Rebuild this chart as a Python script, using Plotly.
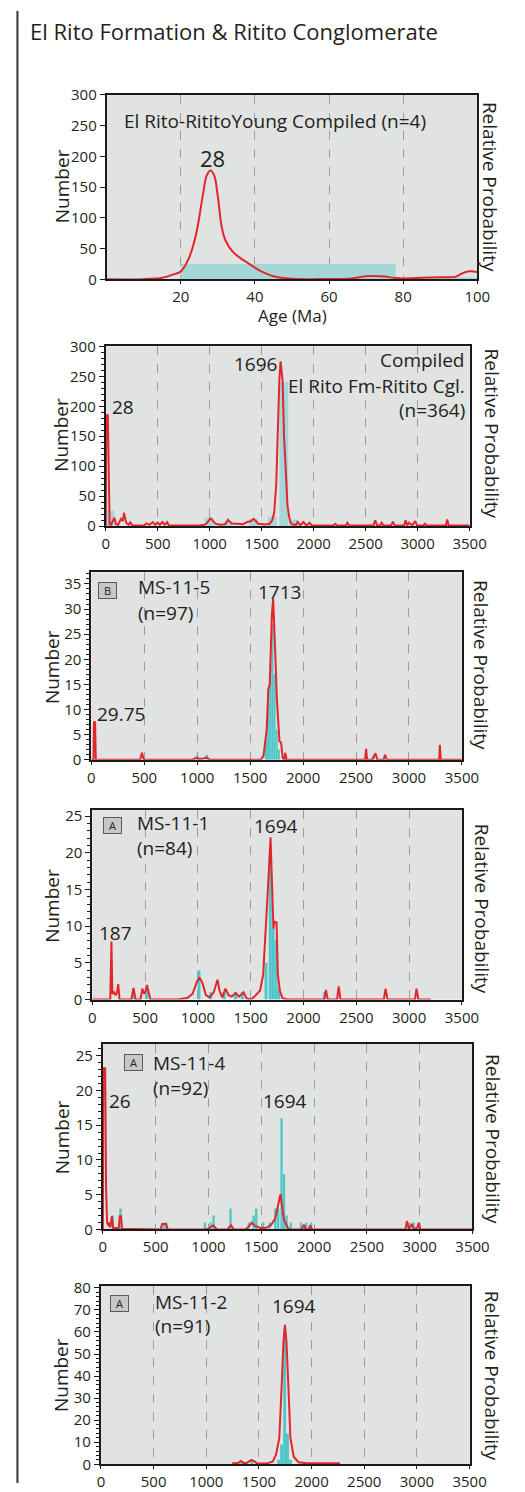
import plotly.graph_objects as go

# ---- data (ages in Ma, counts / scaled probability) ----

# panel 1: young grains 0-100 Ma
p1_bin_lo = [20, 79]
p1_bin_hi = [78, 100]
p1_count = [25, 3]
p1_age = [0, 10, 15, 18, 20, 22, 24, 26, 27, 28, 29, 30, 31, 32, 34, 36, 38, 40, 42, 45,
          50, 60, 66, 70, 72, 75, 78, 80, 85, 90, 94, 96, 98, 100]
p1_prob = [0, 0.3, 2.7, 8, 13, 32, 70, 139, 169, 177, 169, 134, 86, 64, 45, 35, 27, 19, 12, 5,
           1, 0.5, 1.5, 5, 5.5, 4.5, 2, 1.5, 2.5, 3.5, 4, 10, 13, 12]

# panel 2: compiled El Rito Fm - Ritito Cgl
p2_bin_mid = [40, 992, 1178, 1420, 1602, 1713, 1806]
p2_count = [26, 14, 8, 12, 16, 240, 11]
p2_age = [0, 5, 20, 30, 37, 50, 83, 98, 120, 145, 165, 175, 197, 220, 237, 252, 370, 391,
          420, 453, 475, 499, 520, 545, 568, 591, 606, 900, 950, 976, 1007, 1030, 1053, 1100,
          1150, 1176, 1210, 1268, 1320, 1361, 1395, 1422, 1450, 1468, 1530, 1576, 1600, 1620,
          1640, 1655, 1670, 1682, 1692, 1701, 1715, 1732, 1748, 1763, 1778, 1794, 1830, 1847,
          1870, 1900, 1930, 1961, 1980, 2190, 2207, 2225, 2310, 2324, 2340, 2575, 2592, 2610,
          2640, 2654, 2670, 2745, 2762, 2780, 2870, 2885, 2900, 2916, 2950, 2977, 2995, 3055,
          3070, 3085, 3272, 3285, 3298, 3500]
p2_prob = [1, 185, 185, 20, 3, 2, 14, 3, 2, 12, 8, 22, 5, 2, 7, 1, 1, 4.4,
           2, 6.6, 2, 5.5, 2, 6.6, 2, 6.6, 1, 1, 2, 5.5, 12.7, 9, 4, 2,
           3, 10.5, 4, 3.8, 3, 6.6, 8, 12, 6, 3.8, 2.5, 3.8, 9, 22,
           70, 160, 245, 275, 262, 242, 150, 77, 35, 16, 6, 2.8, 2, 7,
           1, 6.6, 1, 5.5, 1, 1, 3.8, 1, 1, 5.5, 1, 1, 9.4, 1,
           1, 5.5, 1, 1, 7, 1, 1, 9.4, 1, 5.5, 1, 8.3, 1, 1,
           3.8, 1, 1, 11, 1, 1]

# panel 3: MS-11-5
p3_bin_mid = [1000, 1088, 1650, 1670, 1690, 1710, 1730, 1750, 1770, 2666]
p3_count = [1, 1, 4, 14, 19, 27, 17, 6, 2, 0.8]
p3_age = [0, 20, 25, 35, 42, 460, 478, 495, 950, 990, 1020, 1050, 1088, 1120, 1600, 1626,
          1656, 1671, 1685, 1692, 1705, 1717, 1728, 1741, 1752, 1762, 1777, 1792, 1807, 1822,
          1830, 1845, 2585, 2595, 2605, 2650, 2670, 2684, 2700, 2760, 2774, 2790, 3285, 3292,
          3300, 3500]
p3_prob = [0, 0, 7.5, 7.5, 0, 0, 1.4, 0, 0, 0.4, 0.2, 0.2, 0.5, 0, 0, 0.8,
           6, 14, 15, 20, 29, 32, 27, 19, 12, 9, 3.7, 3.4, 0.4, 0,
           1.4, 0, 0, 2.2, 0, 0, 0.8, 1.3, 0, 0, 1, 0, 0, 3,
           0, 0]

# panel 4: MS-11-1
p4_bin_mid = [390, 517, 1010, 1120, 1250, 1357, 1420, 1645, 1685, 1712, 1740, 1765, 2200]
p4_count = [1.3, 1.3, 4, 1, 1, 1, 1, 5, 19.8, 9.8, 8.1, 1.5, 1]
p4_age = [0, 170, 181, 190, 205, 220, 235, 245, 258, 370, 390, 410, 455, 474, 490, 502,
          517, 532, 550, 800, 900, 950, 990, 1015, 1045, 1075, 1110, 1150, 1175, 1185, 1205,
          1230, 1261, 1290, 1320, 1357, 1390, 1432, 1460, 1500, 1528, 1588, 1618, 1649, 1670,
          1688, 1703, 1715, 1725, 1733, 1745, 1757, 1776, 1800, 1850, 2195, 2212, 2230, 2318,
          2333, 2350, 2760, 2777, 2795, 3055, 3070, 3088, 3206]
p4_prob = [0, 0, 7.9, 0.8, 1, 0.6, 1, 2.1, 0, 0, 1.6, 0, 0, 1.5, 0.8, 1,
           2.0, 1, 0, 0, 0.2, 0.8, 2.4, 3.0, 2.2, 0.6, 0.3, 1, 2.3, 2.7, 1.2,
           0.3, 1.5, 0.6, 0.4, 0.9, 0.4, 1.0, 0.2, 0, 0.3, 1.2, 3.4, 10.6, 17,
           22.1, 15, 9.7, 10.6, 10.6, 10.5, 3.4, 1.2, 0.2, 0, 0, 1.3, 0, 0,
           1.8, 0, 0, 1.5, 0, 0, 1.5, 0, 0]

# panel 5: MS-11-4
p5_bin_mid = [94, 167, 575, 600, 966, 1018, 1048, 1209, 1382, 1427, 1452, 1518, 1579, 1633,
              1660, 1692, 1715, 1740, 1779, 1876, 1927, 1973, 2897, 2942, 2997]
p5_count = [2, 3, 1, 1, 1, 1, 2, 3, 1, 2, 3, 1, 1, 3,
            3, 16, 8, 2, 1, 1, 1, 1, 1, 1, 1]
p5_age = [0, 4, 22, 30, 40, 55, 61, 70, 85, 97, 150, 160, 172, 182, 545, 562, 598, 615,
          960, 1000, 1045, 1080, 1180, 1212, 1240, 1350, 1380, 1409, 1440, 1490, 1540, 1590,
          1630, 1660, 1682, 1700, 1715, 1740, 1760, 1885, 1903, 1920, 1950, 1964, 1978, 2865,
          2879, 2900, 2925, 2945, 2980, 2991, 3005, 3500]
p5_prob = [0, 23.2, 23.2, 6, 1, 0.5, 1, 0.3, 1.9, 0.2, 0.2, 1.9, 1.9, 0.1, 0, 0.8, 0.8, 0,
           0, 0.1, 0.6, 0, 0, 0.6, 0, 0, 0.4, 0.95, 0.5, 0.2, 0.2, 0.6,
           1.5, 3.5, 5.07, 3, 1.4, 0.6, 0, 0, 0.7, 0, 0, 0.6, 0, 0,
           1.2, 0, 0.8, 0, 0.3, 0.95, 0, 0]

# panel 6: MS-11-2
p6_bin_mid = [1340, 1432, 1688, 1715, 1744, 1771, 1798]
p6_count = [1.5, 2, 2, 9, 61, 14, 2]
p6_age = [1246, 1300, 1330, 1350, 1380, 1425, 1450, 1480, 1571, 1632, 1662, 1693, 1717, 1732,
          1747, 1762, 1778, 1799, 1830, 1875, 1950, 2100, 2270]
p6_prob = [0.5, 0.5, 1.5, 0.7, 0.5, 1.9, 1.5, 0.5, 0.3, 1.3, 4.3, 11.8, 37, 55,
           63.2, 55, 37, 11.8, 3.4, 0.9, 0.5, 0.4, 0.4]

# ---- styling / layout ----
W, H = 525, 1492
FONT = "Open Sans"
INK = "#231f20"
RED = "#e3262b"
TEAL = "#4fc6c9"
PALE = "#a7d6d8"


def px(x):
    return x / W


def py(y):
    return 1 - y / H


p1_mid = [(a + b) / 2 for a, b in zip(p1_bin_lo, p1_bin_hi)]
p1_w = [b - a for a, b in zip(p1_bin_lo, p1_bin_hi)]

panels = [
    dict(mid=p1_mid, cnt=p1_count, bw=p1_w, bc=PALE, age=p1_age, prob=p1_prob, shape="spline",
         box=(107, 493, 85, 272), xr=[0, 100], xt=[20, 40, 60, 80, 100], yr=[0, 300], dy=50,
         minor=None, num=(60, 178), rel=(507, 178)),
    dict(mid=p2_bin_mid, cnt=p2_count, bw=85, bc=PALE, age=p2_age, prob=p2_prob, shape="linear",
         box=(106, 485, 340, 522), xr=[0, 3500], xt=list(range(0, 3501, 500)), yr=[0, 300],
         dy=50, minor=10, num=(60, 430), rel=(508, 428)),
    dict(mid=p3_bin_mid, cnt=p3_count, bw=20, bc=TEAL, age=p3_age, prob=p3_prob, shape="linear",
         box=(91, 477, 569, 759), xr=[0, 3500], xt=list(range(0, 3501, 500)), yr=[0, 37.3],
         dy=5, minor=1, num=(50, 665), rel=(497, 663)),
    dict(mid=p4_bin_mid, cnt=p4_count, bw=28, bc=TEAL, age=p4_age, prob=p4_prob, shape="linear",
         box=(92, 477, 810, 1002), xr=[0, 3500], xt=list(range(0, 3501, 500)), yr=[0, 25.8],
         dy=5, minor=1, num=(50, 907), rel=(498, 910)),
    dict(mid=p5_bin_mid, cnt=p5_count, bw=22, bc=TEAL, age=p5_age, prob=p5_prob, shape="linear",
         box=(103, 488, 1047, 1235), xr=[0, 3500], xt=list(range(0, 3501, 500)), yr=[0, 26.7],
         dy=5, minor=1, num=(60, 1142), rel=(510, 1143)),
    dict(mid=p6_bin_mid, cnt=p6_count, bw=27, bc=TEAL, age=p6_age, prob=p6_prob, shape="linear",
         box=(101, 485, 1292, 1473), xr=[0, 3500], xt=list(range(0, 3501, 500)), yr=[0, 81],
         dy=10, minor=2, num=(60, 1383), rel=(508, 1383)),
]

fig = go.Figure()
layout = {}
annotations = []

for i, p in enumerate(panels):
    k = "" if i == 0 else str(i + 1)
    xa, ya = "x" + k, "y" + k
    fig.add_trace(go.Bar(x=p["mid"], y=p["cnt"], width=p["bw"], marker_color=p["bc"],
                         marker_line_width=0, xaxis=xa, yaxis=ya, showlegend=False))
    fig.add_trace(go.Scatter(x=p["age"], y=p["prob"], mode="lines",
                             line=dict(color=RED, width=2, shape=p["shape"]),
                             xaxis=xa, yaxis=ya, showlegend=False))
    l, r, t, b = p["box"]
    layout["xaxis" + k] = dict(
        domain=[px(l), px(r)], anchor=ya, range=p["xr"], tickvals=p["xt"],
        showgrid=True, gridcolor="#9d9d9d", griddash="dash", gridwidth=1, zeroline=False,
        showline=True, mirror=True, linecolor="#1a1a1a", linewidth=2,
        ticks="outside", ticklen=3, tickcolor="#1a1a1a",
        tickfont=dict(family=FONT, size=15, color=INK), fixedrange=True)
    yax = dict(
        domain=[py(b), py(t)], anchor=xa, range=p["yr"], dtick=p["dy"], tick0=0,
        showgrid=False, zeroline=False, showline=True, mirror=True, linecolor="#1a1a1a",
        linewidth=2, ticks="outside", ticklen=5, tickcolor="#1a1a1a",
        tickfont=dict(family=FONT, size=15, color=INK), fixedrange=True)
    if p["minor"]:
        yax["minor"] = dict(ticks="outside", ticklen=3, dtick=p["minor"], tickcolor="#1a1a1a")
    layout["yaxis" + k] = yax
    annotations.append(dict(text="Number", x=px(p["num"][0]), y=py(p["num"][1]),
                            xref="paper", yref="paper", textangle=-90, showarrow=False,
                            xanchor="center", yanchor="middle",
                            font=dict(family=FONT, size=19, color=INK)))
    annotations.append(dict(text="Relative Probability", x=px(p["rel"][0]), y=py(p["rel"][1]),
                            xref="paper", yref="paper", textangle=90, showarrow=False,
                            xanchor="center", yanchor="middle",
                            font=dict(family=FONT, size=19, color=INK)))


def label(txt, x, y, panel, size=19, anchor="center"):
    k = "" if panel == 1 else str(panel)
    annotations.append(dict(text=txt, x=x, y=y, xref="x" + k, yref="y" + k, showarrow=False,
                            xanchor=anchor, yanchor="middle",
                            font=dict(family=FONT, size=size, color=INK)))


def tag(txt, x, y, panel):
    k = "" if panel == 1 else str(panel)
    annotations.append(dict(text=txt, x=x, y=y, xref="x" + k, yref="y" + k, showarrow=False,
                            width=15, height=13, bgcolor="#c6c7c8", bordercolor="#5a5a5a",
                            borderwidth=1, borderpad=1,
                            font=dict(family=FONT, size=11, color=INK)))


label("El Rito-RititoYoung Compiled (n=4)", 4.2, 258, 1, anchor="left")
label("28", 28.6, 197, 1, size=22)
label("28", 169, 198, 2)
label("1696", 1443, 270, 2)
label("Compiled", 3475, 278, 2, anchor="right")
label("El Rito Fm-Ritito Cgl.", 3475, 234, 2, anchor="right")
label("(n=364)", 3475, 193, 2, anchor="right")
tag("B", 157, 33.7, 3)
label("MS-11-5", 420, 34.3, 3, anchor="left")
label("(n=97)", 420, 29.2, 3, anchor="left")
label("1713", 1780, 33.4, 3)
label("29.75", 284, 9.2, 3)
tag("A", 193, 23.7, 4)
label("MS-11-1", 402, 24.1, 4, anchor="left")
label("(n=84)", 402, 20.6, 4, anchor="left")
label("1694", 1735, 23.7, 4)
label("187", 220, 9.0, 4)
tag("A", 288, 24.0, 5)
label("MS-11-4", 452, 24.0, 5, anchor="left")
label("(n=92)", 452, 20.3, 5, anchor="left")
label("1694", 1725, 18.5, 5)
label("26", 161, 18.5, 5)
tag("A", 173, 73, 6)
label("MS-11-2", 492, 73.4, 6, anchor="left")
label("(n=91)", 492, 62.7, 6, anchor="left")
label("1694", 1832, 71.6, 6)

annotations.append(dict(text="El Rito Formation & Ritito Conglomerate", x=px(25), y=py(20),
                        xref="paper", yref="paper", xanchor="left", yanchor="middle",
                        showarrow=False, font=dict(family=FONT, size=22, color=INK)))
annotations.append(dict(text="Age (Ma)", x=px(300), y=py(309), xref="paper", yref="paper",
                        xanchor="center", yanchor="middle",
                        showarrow=False, font=dict(family=FONT, size=17, color=INK)))

fig.update_layout(
    width=W, height=H, autosize=False,
    margin=dict(l=0, r=0, t=0, b=0),
    paper_bgcolor="white", plot_bgcolor="#e1e2e2",
    barmode="overlay", annotations=annotations,
    shapes=[dict(type="line", xref="paper", yref="paper", x0=px(14), x1=px(14), y0=0, y1=1,
                 line=dict(color="#333333", width=2))],
    **layout)

# the page's default body margin would push the figure past the window edges
fig.write_html("out.html", config={"displayModeBar": False},
               post_script="document.body.style.margin='0';"
                           "document.body.style.overflow='hidden';")
